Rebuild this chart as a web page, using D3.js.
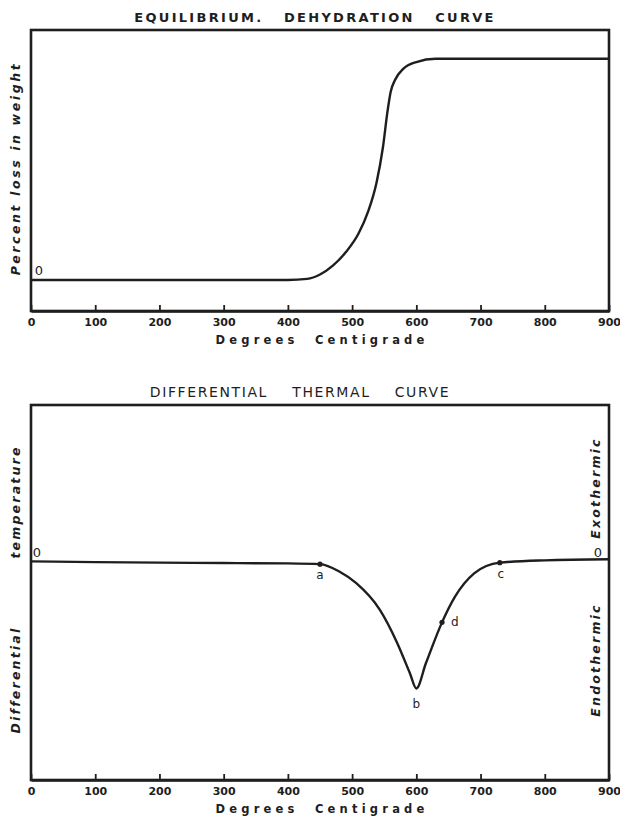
<!DOCTYPE html>
<html>
<head>
<meta charset="utf-8">
<script src="https://cdn.jsdelivr.net/npm/d3@7"></script>
<style>
  html, body { margin: 0; padding: 0; background: #ffffff; }
  svg { display: block; }
  text { fill: #1e1e1e; font-family: "DejaVu Sans", sans-serif; }
</style>
</head>
<body>
<svg id="chart" width="620" height="822"></svg>
<script>
// ---------- data ----------
const xTicks = [0, 100, 200, 300, 400, 500, 600, 700, 800, 900];
const xTickLabels = ["0", "100", "200", "300", "400", "500", "600", "700", "800", "900"];

// Equilibrium dehydration curve: temperature (°C) vs percent of total weight loss
const dehydTemp = [0, 100, 200, 300, 400, 430, 450, 470, 490, 510, 525, 538, 548, 555, 560, 567, 580, 600, 630, 700, 800, 900];
const dehydLoss = [0, 0, 0, 0, 0, 0.5, 2.5, 6.5, 12.5, 21, 31, 44, 60, 76, 85, 90.5, 95.5, 98.5, 100, 100, 100, 100];

// Differential thermal curve: temperature (°C) vs differential temperature (arbitrary units)
const dtaTemp = [0, 100, 200, 300, 400, 450, 480, 506, 543, 570, 590, 600, 615, 640, 660, 690, 730, 800, 900];
const dtaValue = [0, -0.6, -1, -1.3, -1.6, -2.2, -8, -17, -38, -64, -88, -100, -80, -48, -28, -9.5, -1, 0.8, 1.6];

// labelled points on the DTA curve
const dtaPointNames = ["a", "b", "c", "d"];
const dtaPointTemp = [450, 600, 730, 640];
const dtaPointValue = [-2.2, -100, -1, -48];

// ---------- drawing ----------
const svg = d3.select("#chart");
const ink = "#1e1e1e";

const x = d3.scaleLinear().domain([0, 900]).range([31, 609]);
const yTop = d3.scaleLinear().domain([-14, 113]).range([311, 30]);
const yBot = d3.scaleLinear().domain([-172, 123]).range([780, 405]);

function panel(yScale, title, titleX, titleY, titleWeight, titleSize, titleSpacing) {
  const g = svg.append("g");
  const [y0, y1] = yScale.domain();
  g.append("rect")
    .attr("x", x(0)).attr("y", yScale(y1))
    .attr("width", x(900) - x(0)).attr("height", yScale(y0) - yScale(y1))
    .attr("fill", "none").attr("stroke", ink).attr("stroke-width", 2.6);
  const axis = d3.axisBottom(x)
    .tickValues(xTicks)
    .tickFormat((d, i) => xTickLabels[i])
    .tickSizeInner(-6).tickSizeOuter(0).tickPadding(7);
  const ag = g.append("g").attr("transform", `translate(0,${yScale(y0)})`).call(axis);
  ag.select(".domain").attr("stroke", ink).attr("stroke-width", 2.6);
  ag.selectAll(".tick line").attr("stroke", ink).attr("stroke-width", 1.8);
  ag.selectAll(".tick text")
    .style("font-family", "'DejaVu Sans', sans-serif")
    .style("font-size", "11px").style("font-weight", "bold")
    .attr("fill", ink);
  g.append("text")
    .attr("x", 322).attr("y", yScale(y0) + 33)
    .attr("text-anchor", "middle")
    .style("font-size", "11.5px").style("font-weight", "bold")
    .style("letter-spacing", "4.2px")
    .style("white-space", "pre")
    .text("Degrees  Centigrade");
  g.append("text")
    .attr("x", titleX).attr("y", titleY)
    .attr("text-anchor", "middle")
    .style("font-size", titleSize).style("font-weight", titleWeight)
    .style("letter-spacing", titleSpacing)
    .style("white-space", "pre")
    .text(title);
  return g;
}

// ---- top panel ----
const gTop = panel(yTop, "EQUILIBRIUM.   DEHYDRATION   CURVE", 315, 22, "bold", "13px", "2.3px");
const lineTop = d3.line()
  .x((d, i) => x(dehydTemp[i]))
  .y((d, i) => yTop(dehydLoss[i]))
  .curve(d3.curveMonotoneX);
gTop.append("path")
  .attr("d", lineTop(dehydTemp))
  .attr("fill", "none").attr("stroke", ink).attr("stroke-width", 2.4);
gTop.append("text")
  .attr("x", x(0) + 8).attr("y", yTop(0) - 5)
  .attr("text-anchor", "middle")
  .style("font-size", "13px")
  .text("0");
gTop.append("text")
  .attr("transform", `translate(20,${(yTop(-14) + yTop(113)) / 2 - 2}) rotate(-90)`)
  .attr("text-anchor", "middle")
  .style("font-size", "12.5px").style("font-weight", "bold").style("font-style", "italic")
  .style("letter-spacing", "2.6px")
  .text("Percent loss in weight");

// ---- bottom panel ----
const gBot = panel(yBot, "DIFFERENTIAL    THERMAL    CURVE", 300, 397, "normal", "14px", "1.6px");
const lineBot = d3.line()
  .x((d, i) => x(dtaTemp[i]))
  .y((d, i) => yBot(dtaValue[i]))
  .curve(d3.curveMonotoneX);
gBot.append("path")
  .attr("d", lineBot(dtaTemp))
  .attr("fill", "none").attr("stroke", ink).attr("stroke-width", 2.4);

gBot.selectAll("circle.pt")
  .data(dtaPointNames.filter(n => n !== "b"))
  .join("circle")
  .attr("class", "pt")
  .attr("cx", n => x(dtaPointTemp[dtaPointNames.indexOf(n)]))
  .attr("cy", n => yBot(dtaPointValue[dtaPointNames.indexOf(n)]))
  .attr("r", 2.6).attr("fill", ink);

const labelOffset = { a: [0, 15], b: [0, 20], c: [1, 15], d: [9, 4] };
gBot.selectAll("text.pl")
  .data(dtaPointNames)
  .join("text")
  .attr("class", "pl")
  .attr("x", (n, i) => x(dtaPointTemp[i]) + labelOffset[n][0])
  .attr("y", (n, i) => yBot(dtaPointValue[i]) + labelOffset[n][1])
  .attr("text-anchor", n => n === "d" ? "start" : "middle")
  .style("font-size", "12px")
  .text(n => n);

gBot.append("text")
  .attr("x", x(0) + 6).attr("y", yBot(0) - 4)
  .attr("text-anchor", "middle").style("font-size", "13px").text("0");
gBot.append("text")
  .attr("x", x(900) - 11).attr("y", yBot(0) - 4)
  .attr("text-anchor", "middle").style("font-size", "13px").text("0");

function sideLabel(cx, cy, txt) {
  gBot.append("text")
    .attr("transform", `translate(${cx},${cy}) rotate(-90)`)
    .attr("text-anchor", "middle")
    .style("font-size", "12.5px").style("font-weight", "bold").style("font-style", "italic")
    .style("letter-spacing", "2.2px")
    .text(txt);
}
sideLabel(20, 502, "temperature");
sideLabel(20, 680, "Differential");
sideLabel(600, 488, "Exothermic");
sideLabel(600, 660, "Endothermic");
</script>
</body>
</html>
